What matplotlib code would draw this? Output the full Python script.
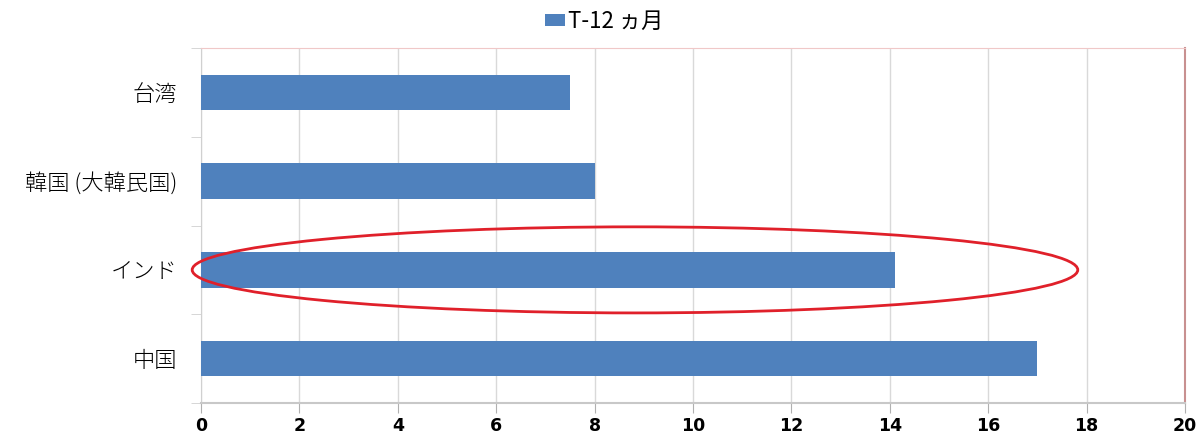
import numpy as np
import matplotlib.pyplot as plt
from matplotlib.patches import Ellipse

plt.rcParams['font.family'] = ['Noto Sans CJK JP', 'DejaVu Sans']

# data (bottom to top)
countries = ['中国', 'インド', '韓国 (大韓民国)', '台湾']
values = [17.0, 14.1, 8.0, 7.5]
series_name = 'T-12 ヵ月'
xticks = np.arange(0, 21, 2)

fig = plt.figure(figsize=(12.01, 4.33), dpi=100)
ax = fig.add_axes([0.1674, 0.0693, 0.8193, 0.8198])

y = np.arange(len(countries))
ax.barh(y, values, height=0.4, color='#4f81bd', label=series_name, zorder=3)

ax.set_xlim(0, 20)
ax.set_ylim(-0.5, len(countries) - 0.5)
ax.set_xticks(xticks)
ax.set_xticklabels([str(t) for t in xticks], fontsize=12.5, fontweight='bold',
                   family='DejaVu Sans')
ax.tick_params(axis='x', length=7, color='#b0b0b0', pad=3)

ax.set_yticks(y)
ax.set_yticklabels(countries, fontsize=16, fontweight='light')
ax.tick_params(axis='y', length=0, pad=17)
ax.set_yticks(np.arange(-0.5, len(countries)), minor=True)
ax.tick_params(axis='y', which='minor', length=7, color='#d0d0d0')

ax.grid(axis='x', color='#d9d9d9', lw=1, zorder=0)

ax.spines['left'].set_color('#d0d0d0')
ax.spines['bottom'].set_color('#c8c8c8')
ax.spines['bottom'].set_linewidth(1.5)
ax.spines['top'].set_color('#f0c8c8')
ax.spines['right'].set_color('#c89090')
ax.spines['right'].set_linewidth(1.5)

# highlight the India bar
ell = Ellipse((8.82, 1.0), 18.0, 0.97, fill=False, edgecolor='#e0202a',
              lw=2, zorder=4, clip_on=False)
ax.add_patch(ell)

leg = ax.legend(loc='center', bbox_to_anchor=(0.41, 1.075), frameon=False,
                fontsize=16, handlelength=0.9, handleheight=0.45,
                handletextpad=0.15, borderaxespad=0)

fig.savefig('out.png', dpi=100)
